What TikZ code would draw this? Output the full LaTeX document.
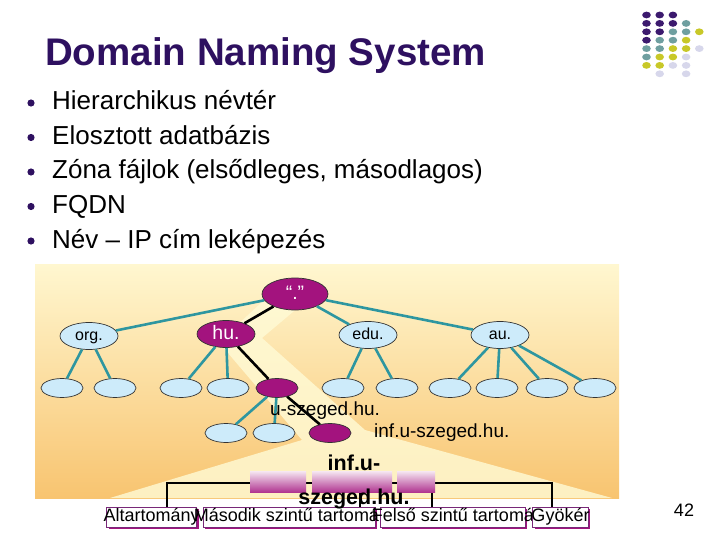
\documentclass[tikz,border=0pt]{standalone}
\usepackage{fontspec}
\setmainfont{Liberation Sans}
\usetikzlibrary{positioning,shapes.geometric,shadows}

\definecolor{titlepurple}{RGB}{46,16,96}
\definecolor{nodeblue}{RGB}{205,235,250}
\definecolor{nodemag}{RGB}{163,19,126}
\definecolor{edgeteal}{RGB}{46,150,160}
\definecolor{bgtop}{RGB}{255,247,208}
\definecolor{bgbot}{RGB}{248,196,112}
\definecolor{beam}{RGB}{255,251,214}
\definecolor{boxline}{RGB}{120,40,120}
\definecolor{dotP}{RGB}{60,26,110}
\definecolor{dotT}{RGB}{111,159,160}
\definecolor{dotY}{RGB}{200,200,40}
\definecolor{dotL}{RGB}{215,215,235}

\begin{document}
\begin{tikzpicture}[
    x=1pt, y=-1pt,
    every node/.style={inner sep=0pt},
    bullettext/.style={anchor=base west, font=\fontsize{26}{28}\selectfont},
    zone/.style={ellipse, draw=black!80, line width=0.7pt, fill=nodeblue,
                 minimum width=58, minimum height=27, text height=8.5pt, text depth=0pt,
                 font=\fontsize{16}{18}\selectfont},
    zonesel/.style={zone, fill=nodemag, text=white, text height=10.5pt, text depth=0pt,
                    font=\fontsize{19.5}{20}\selectfont},
    leaf/.style={ellipse, draw=black!80, line width=0.7pt, fill=nodeblue,
                 minimum width=42, minimum height=19},
    leafsel/.style={leaf, fill=nodemag},
    treeline/.style={edgeteal, line width=2.6pt},
    selline/.style={black, line width=2.6pt},
    namelbl/.style={font=\fontsize{19}{20}\selectfont},
    lbl/.style={draw=boxline, line width=0.6pt, fill=white, minimum height=20,
                drop shadow={shadow xshift=2pt, shadow yshift=-2pt, fill=nodemag, opacity=1},
                font=\fontsize{18}{20}\selectfont},
  ]
  \useasboundingbox (0,0) rectangle (720,540);

  % ============================================================
  % Title, bullets, logo dots
  % ============================================================
  \node[anchor=base west, text=titlepurple, font=\fontsize{38.5}{40}\selectfont\bfseries]
    (title) at (45,66) {Domain Naming System};

  \foreach \t [count=\k from 0, evaluate=\k as \yb using 110+34.5*\k] in
      {Hierarchikus névtér, Elosztott adatbázis, {Zóna fájlok (elsődleges, másodlagos)},
       FQDN, Név – IP cím leképezés} {
    \fill[titlepurple] (31,\yb-7) circle[radius=3.6pt];
    \node[bullettext] (item\k) at (52,\yb) {\t};
  }

  \foreach \c/\r/\k in {0/0/P,1/0/P,2/0/P,
                        0/1/P,1/1/P,2/1/P,3/1/T,
                        0/2/P,1/2/P,2/2/T,3/2/T,4/2/Y,
                        0/3/P,1/3/T,2/3/T,3/3/Y,
                        0/4/T,1/4/T,2/4/Y,3/4/Y,4/4/L,
                        0/5/T,1/5/Y,2/5/Y,3/5/L,
                        0/6/Y,1/6/Y,2/6/L,3/6/L,
                        1/7/L,3/7/L} {
    \fill[dot\k] ({646.5+13.2*\c},{15+8.4*\r}) ellipse[x radius=4.3pt, y radius=3.4pt];
  }

  % ============================================================
  % Tree background and highlighted path
  % ============================================================
  \shade[top color=bgtop, bottom color=bgbot] (35,264) rectangle (619,498);
  \fill[beam, opacity=0.8] (262,302) -- (300,306) -- (262,338) -- (365,430)
    -- (612,498) -- (110,498) -- (302,440) -- (222,346) -- (232,330) -- cycle;

  % Nodes
  \node[zonesel, minimum width=66, minimum height=32] (root) at (295,294) {“.”};
  \node[zone] (org) at (89,336) {org.};
  \node[zonesel] (hu) at (226,334) {hu.};
  \node[zone] (edu) at (368,335) {edu.};
  \node[zone] (au) at (500,335) {au.};

  \foreach \i/\x in {1/62,2/115,3/181,4/228,6/343,7/397,8/450,9/497,10/547,11/595} {
    \node[leaf] (l\i) at (\x,388) {};
  }
  \node[leafsel] (usz) at (277,388) {};
  \node[leaf] (m1) at (226,433) {};
  \node[leaf] (m2) at (274,433) {};
  \node[leafsel] (inf) at (330,433) {};

  % Edges
  \foreach \a/\b in {root/org, root/edu, root/au, org/l1, org/l2, hu/l3, hu/l4,
                     edu/l6, edu/l7, au/l8, au/l9, au/l10, au/l11, usz/m1, usz/m2} {
    \draw[treeline] (\a) -- (\b);
  }
  \draw[selline] (root) -- (hu);
  \draw[selline] (hu) -- (usz);
  \draw[selline] (usz) -- (inf);

  \node[namelbl] (uszlbl) at (325,411) {u-szeged.hu.};
  \node[namelbl, anchor=west] (inflbl) at (374,433) {inf.u-szeged.hu.};

  % ============================================================
  % Zone levels below
  % ============================================================
  \node[lbl, minimum width=90] (alt) at (151.7,517) {\makebox[0pt]{Altartomány}};
  \node[lbl, minimum width=172] (mas) at (289,517) {\makebox[0pt]{\hspace{14pt}Második szintű tartomány}};
  \node[lbl, minimum width=145] (fel) at (452.5,517) {\makebox[0pt]{\hspace{20pt}Felső szintű tartomány}};
  \node[lbl, minimum width=55.6] (gyo) at (560.5,517) {\makebox[0pt]{Gyökér}};

  \coordinate (brA) at (167,483);
  \coordinate (brB) at (360,483);
  \coordinate (brC) at (432,483);
  \coordinate (brD) at (552,483);
  \draw[line width=1.2pt] (alt.north -| brA) -- (brA) -- (brD) -- (gyo.north -| brD);
  \draw[line width=1.2pt] (brB) -- (mas.north -| brB);
  \draw[line width=1.2pt] (brC) -- (fel.north -| brC);

  \foreach \xa/\xb in {250/306, 312/392, 397/435} {
    \shade[top color=nodemag!10!white, middle color=nodemag!35!white,
           bottom color=nodemag!85!white] (\xa,471) rectangle (\xb,492);
  }
  \node[align=center, font=\fontsize{21.5}{34}\selectfont\bfseries] (zonelbl)
    at (354,482) {inf.u-\\szeged.hu.};

  \node[font=\fontsize{18}{20}\selectfont] (pagenum) at (684,510) {42};
\end{tikzpicture}
\end{document}
